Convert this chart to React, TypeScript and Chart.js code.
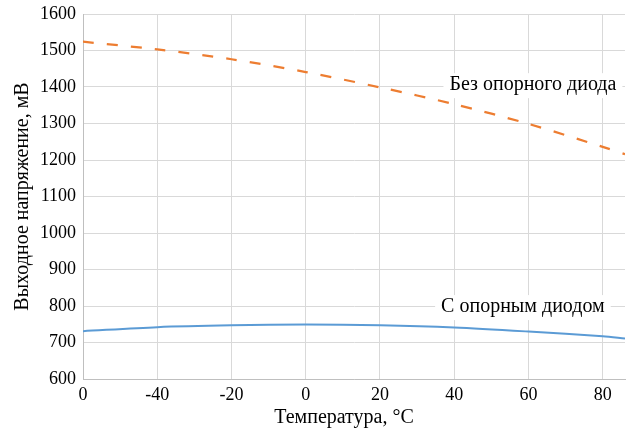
import React, { useEffect, useRef } from "react";
import { Chart, registerables } from "chart.js";

Chart.register(...registerables);

const temperatures = [-60, -40, -20, 0, 20, 40, 60, 80, 86];
const withoutDiode = [1524, 1503, 1476, 1441, 1399, 1353, 1299, 1236, 1216];
const withDiode = [731, 742, 747, 749, 747, 741, 730, 717, 711];
const xTickLabels = ["0", "-40", "-20", "0", "20", "40", "60", "80"];
const seriesNames = ["Без опорного диода", "С опорным диодом"];
const yTitle = "Выходное напряжение, мВ";
const xTitle = "Температура, °C";

const FONT = "'Liberation Serif', 'Times New Roman', serif";

Chart.defaults.font.family = FONT;
Chart.defaults.color = "#000";

const anchors = [
  { x: 61.2, y: 1405 },
  { x: 58.5, y: 797 },
];

const labelPlugin = {
  id: "seriesLabels",
  beforeDatasetsDraw(chart: any) {
    const { ctx, scales } = chart;
    ctx.save();
    ctx.font = `20px ${FONT}`;
    seriesNames.forEach((t, i) => {
      const px = scales.x.getPixelForValue(anchors[i].x);
      const py = scales.y.getPixelForValue(anchors[i].y);
      const w = ctx.measureText(t).width;
      ctx.fillStyle = "#ffffff";
      ctx.fillRect(px - w / 2 - 6, py - 12, w + 12, 25);
    });
    ctx.restore();
  },
  afterDatasetsDraw(chart: any) {
    const { ctx, scales } = chart;
    ctx.save();
    ctx.font = `20px ${FONT}`;
    ctx.textAlign = "center";
    ctx.textBaseline = "middle";
    ctx.fillStyle = "#000000";
    seriesNames.forEach((t, i) => {
      const px = scales.x.getPixelForValue(anchors[i].x);
      const py = scales.y.getPixelForValue(anchors[i].y);
      ctx.fillText(t, px, py);
    });
    ctx.restore();
  },
};

export default function App() {
  const ref = useRef<HTMLCanvasElement | null>(null);
  useEffect(() => {
    document.body.style.margin = "0";
    const canvas = ref.current;
    if (!canvas) return;
    const chart = new Chart(canvas, {
      type: "line",
      data: {
        datasets: [
          {
            label: seriesNames[0],
            data: temperatures.map((t, i) => ({ x: t, y: withoutDiode[i] })),
            borderColor: "#ED7D31",
            borderWidth: 2.25,
            borderDash: [11, 13],
            pointRadius: 0,
            tension: 0.3,
            fill: false,
          },
          {
            label: seriesNames[1],
            data: temperatures.map((t, i) => ({ x: t, y: withDiode[i] })),
            borderColor: "#5B9BD5",
            borderWidth: 2,
            pointRadius: 0,
            tension: 0.3,
            fill: false,
          },
        ],
      },
      options: {
        responsive: false,
        animation: false,
        devicePixelRatio: 1,
        layout: { padding: { top: 14, right: 4, left: 0, bottom: 0 } },
        plugins: {
          legend: { display: false },
          tooltip: { enabled: false },
        },
        scales: {
          x: {
            type: "linear",
            min: -60,
            max: 86,
            afterFit: (s: any) => {
              s.height = 49;
              s.paddingLeft = 0;
              s.paddingRight = 0;
            },
            afterBuildTicks: (s: any) => {
              s.ticks = xTickLabels.map((_, i) => ({ value: -60 + i * 20 }));
            },
            ticks: {
              includeBounds: false,
              padding: 5,
              color: "#000",
              font: { family: FONT, size: 18 },
              maxRotation: 0,
              autoSkip: false,
              callback: (_v: any, i: number) => xTickLabels[i],
            },
            grid: { color: "#d9d9d9", drawTicks: false, lineWidth: 1 },
            border: { color: "#bfbfbf", width: 1 },
            title: {
              display: true,
              text: xTitle + "    ",
              color: "#000",
              font: { family: FONT, size: 20, lineHeight: 1 },
              padding: { top: 0, bottom: 0 },
            },
          },
          y: {
            type: "linear",
            min: 600,
            max: 1600,
            afterFit: (s: any) => {
              s.width = 83;
              s.paddingTop = 0;
              s.paddingBottom = 0;
            },
            ticks: {
              stepSize: 100,
              padding: 7,
              color: "#000",
              font: { family: FONT, size: 18 },
              callback: (v: any) => String(v),
            },
            grid: { color: "#d9d9d9", drawTicks: false, lineWidth: 1 },
            border: { color: "#bfbfbf", width: 1 },
            title: {
              display: true,
              text: yTitle,
              color: "#000",
              font: { family: FONT, size: 20 },
              padding: { top: 11, bottom: 0 },
            },
          },
        },
      },
      plugins: [labelPlugin],
    } as any);
    return () => chart.destroy();
  }, []);
  return (
    <div style={{ width: 629, height: 428 }}>
      <canvas ref={ref} width={629} height={428} style={{ display: "block" }} />
    </div>
  );
}
